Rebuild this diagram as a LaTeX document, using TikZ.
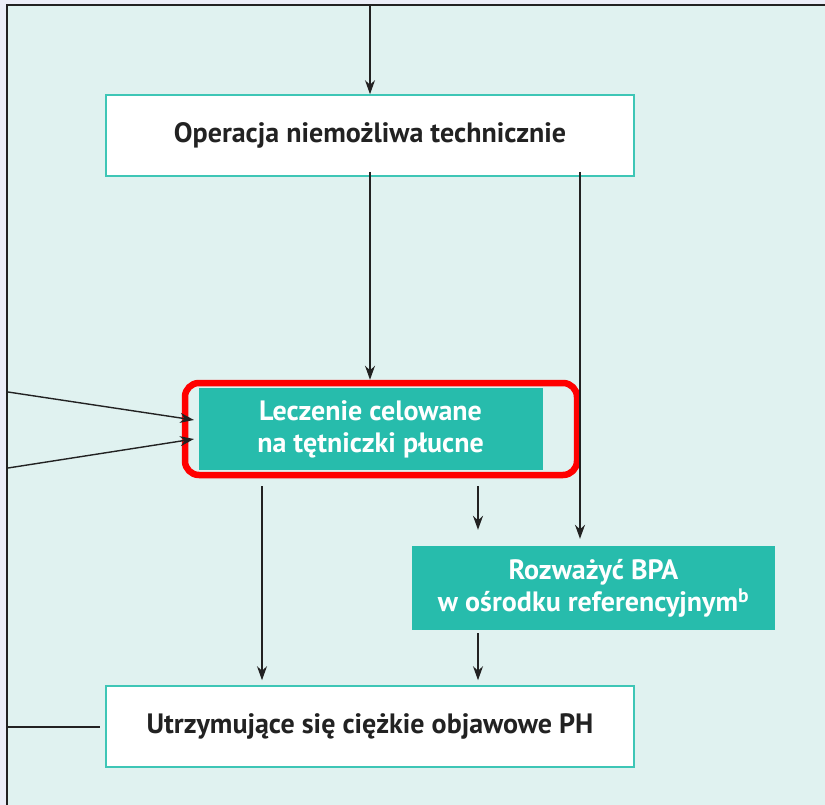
\documentclass[tikz,border=0pt]{standalone}
\usepackage{fontspec}
\setmainfont{PT Sans}
\usetikzlibrary{arrows.meta}
\definecolor{pagebg}{HTML}{ECEEF8}
\definecolor{panelbg}{HTML}{E0F2F0}
\definecolor{tealfill}{HTML}{27BCAC}
\definecolor{tealedge}{HTML}{3EC6B6}
\definecolor{linecol}{HTML}{222222}
\tikzset{
  x=1pt, y=-1pt,
  whitebox/.style={draw=tealedge, line width=1.6pt, fill=white, minimum width=528pt, minimum height=81pt,
    font=\fontsize{28}{32}\selectfont\bfseries, text=linecol, inner sep=0pt},
  tealbox/.style={fill=tealfill, font=\fontsize{28}{32}\selectfont\bfseries, text=white, align=center, inner sep=0pt},
  flow/.style={draw=linecol, line width=1.4pt, -{Stealth[length=14pt,width=10pt]}},
  plain/.style={draw=linecol, line width=1.4pt},
  highlight/.style={draw=red, line width=6.5pt, rounded corners=14pt, inner sep=0pt}
}
\begin{document}
\begin{tikzpicture}
\useasboundingbox (0,0) rectangle (825,805);
% page and framed panel
\fill[pagebg] (0,0) rectangle (825,805);
\fill[panelbg] (7,5) rectangle (830,810);
\draw[linecol, line width=1.6pt] (7,812) -- (7,5) -- (830,5);

% boxes
\node[whitebox] (op) at (370,135.5) {Operacja niemożliwa technicznie};
\node[tealbox, minimum width=344pt, minimum height=82pt] (lec) at (370.5,429) {Leczenie celowane\\na tętniczki płucne};
\node[highlight, minimum width=392pt, minimum height=92pt] (hl) at (381,429) {};
\node[tealbox, minimum width=363pt, minimum height=84pt] (bpa) at (593.5,588) {Rozważyć BPA\\w ośrodku referencyjnym\textsuperscript{b}};
\node[whitebox] (ut) at (370,726.5) {Utrzymujące się ciężkie objawowe PH};

% incoming and outgoing ends
\coordinate (topin) at (370,5);
\coordinate (l1) at (8,392);
\coordinate (l2) at (8,468);
\coordinate (t1) at (194,420);
\coordinate (t2) at (194,439);
\coordinate (l3) at (8,727);
\coordinate (l3e) at (100,727);

% connectors
\draw[flow] (topin) -- (op.north);
\draw[flow] (op.south) ++(0,-5) -- (hl.north -| op.south);
\draw[flow] ([xshift=210pt]op.south) ++(0,-5) -- ([xshift=210pt,yshift=7pt]op.south |- bpa.north);
\draw[flow] (l1) -- (t1);
\draw[flow] (l2) -- (t2);
\draw[flow] ([yshift=-8pt]hl.south -| 262,0) -- ([yshift=5pt]ut.north -| 262,0);
\draw[flow] ([yshift=-8pt]hl.south -| 478,0) -- ([yshift=16pt]bpa.north -| 478,0);
\draw[flow] ([yshift=-3pt]bpa.south -| 478,0) -- ([yshift=5pt]ut.north -| 478,0);
\draw[plain] (l3) -- (l3e);
\end{tikzpicture}
\end{document}
